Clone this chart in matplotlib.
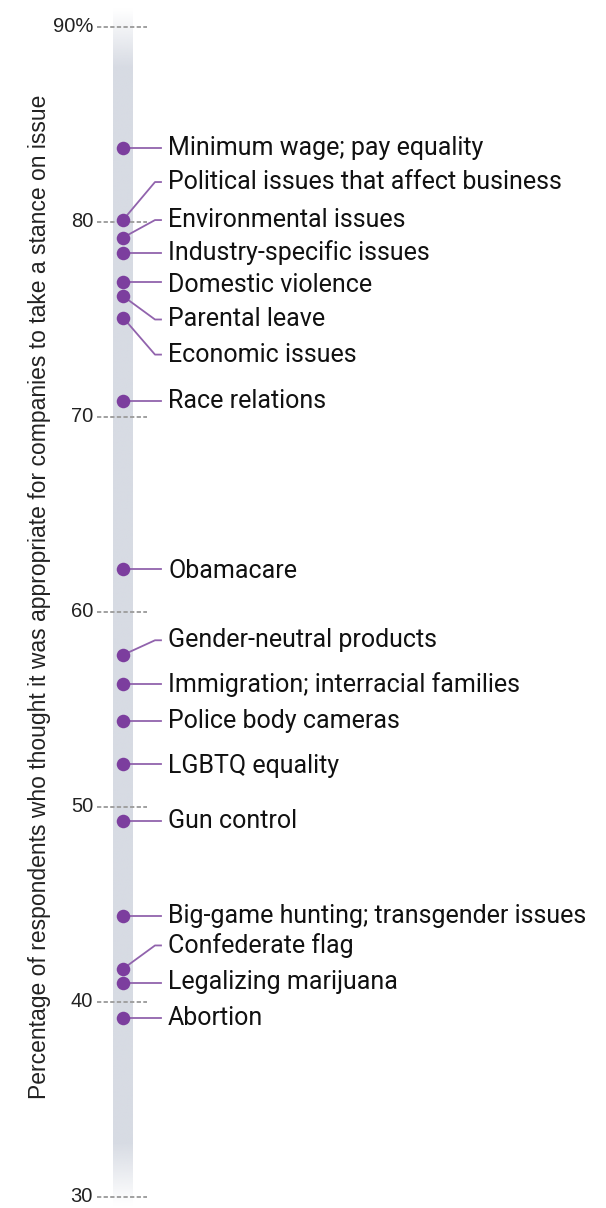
import numpy as np
import matplotlib
matplotlib.use('Agg')
from matplotlib import pyplot as plt

# issues and share of respondents (%) who found a stance appropriate
issues = ['Minimum wage; pay equality', 'Political issues that affect business',
          'Environmental issues', 'Industry-specific issues', 'Domestic violence',
          'Parental leave', 'Economic issues', 'Race relations', 'Obamacare',
          'Gender-neutral products', 'Immigration; interracial families',
          'Police body cameras', 'LGBTQ equality', 'Gun control',
          'Big-game hunting; transgender issues', 'Confederate flag',
          'Legalizing marijuana', 'Abortion']
pct = [83.8, 80.1, 79.2, 78.4, 76.9, 76.2, 75.1, 70.8, 62.2,
       57.8, 56.3, 54.4, 52.2, 49.3, 44.4, 41.7, 41.0, 39.2]
tick_vals = [90, 80, 70, 60, 50, 40, 30]
tick_text = ['90%', '80', '70', '60', '50', '40', '30']
ylabel = 'Percentage of respondents who thought it was appropriate for companies to take a stance on issue'

# where each label sits (de-overlapped by hand)
label_y = [83.8, 82.05, 80.1, 78.45, 76.75, 75.0, 73.2, 70.8, 62.1,
           58.55, 56.3, 54.4, 52.1, 49.3, 44.4, 42.9, 41.0, 39.2]

W, H = 606, 1208
fig = plt.figure(figsize=(W / 100, H / 100), dpi=100)
ax = fig.add_axes([0, 0, 1, 1])
ax.set_xlim(0, W)
ylo, yhi = 30 - 11 / 19.5, 90 + 27 / 19.5
ax.set_ylim(ylo, yhi)
ax.axis('off')

dot_color = '#7c3e9e'
line_color = '#9163ad'
dot_x = 123
bend_x = 155
end_x = 161
text_x = 168

# background bar, fading out at both ends
ys = np.linspace(yhi, ylo, 400)
alpha = np.clip((yhi - 0.4 - ys) / 3.0, 0, 1) * np.clip((ys - ylo - 0.1) / 3.2, 0, 1)
rgba = np.zeros((len(ys), 1, 4))
rgba[:, 0, :3] = matplotlib.colors.to_rgb('#d7dbe3')
rgba[:, 0, 3] = alpha
ax.imshow(rgba, extent=(113, 133, ylo, yhi), aspect='auto', zorder=1, interpolation='bilinear')

# ticks
for v, t in zip(tick_vals, tick_text):
    ax.plot([97, 147], [v, v], color='#a0a0a0', lw=1.4, ls=(0, (2.2, 1.2)), zorder=2)
    ax.text(93, v, t, ha='right', va='center', fontsize=14.5,
            family='Liberation Sans', color='#222222')

# connectors and labels
for name, v, ly in zip(issues, pct, label_y):
    if abs(ly - v) < 0.3:
        ax.plot([dot_x, end_x], [v, v], color=line_color, lw=1.3, zorder=3)
    else:
        ax.plot([dot_x, bend_x, end_x], [v, ly, ly], color=line_color, lw=1.3, zorder=3)
    ax.text(text_x, ly, name, ha='left', va='center', fontsize=18,
            family='Roboto', color='#111111')

ax.scatter([dot_x] * len(pct), pct, s=95, color=dot_color, zorder=4, linewidths=0)

ax.text(40, 60.77, ylabel, rotation=90, ha='center', va='center', fontsize=16.5,
        family='Liberation Sans', color='#222222')

fig.savefig('out.png', dpi=100)
